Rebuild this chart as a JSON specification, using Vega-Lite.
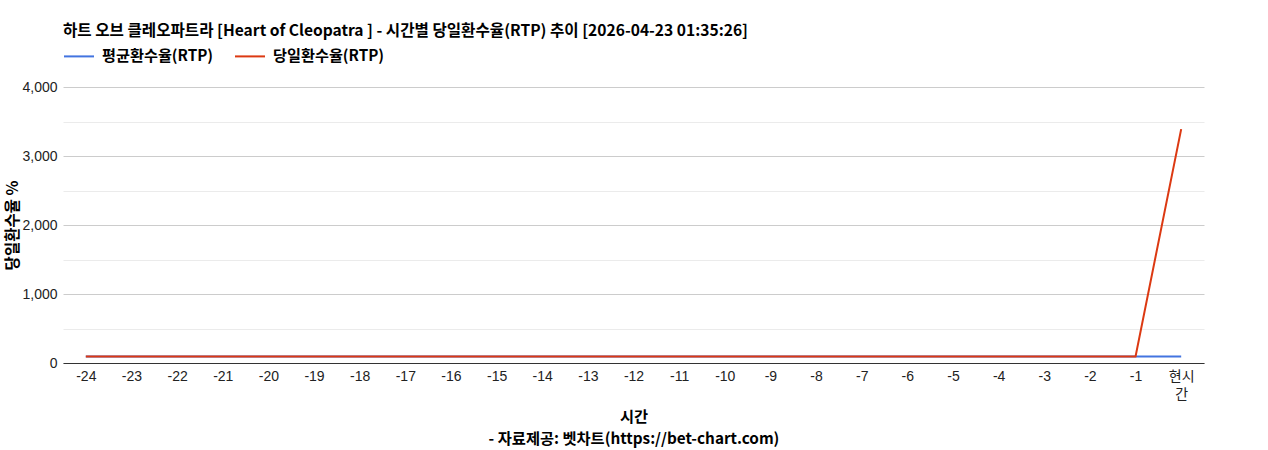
{
  "$schema": "https://vega.github.io/schema/vega-lite/v6.json",
  "autosize": {"type": "none"},
  "width": 1141,
  "height": 276,
  "padding": {"left": 63, "top": 87, "right": 64, "bottom": 87},
  "background": "white",
  "title": {
    "text": "하트 오브 클레오파트라 [Heart of Cleopatra ] - 시간별 당일환수율(RTP) 추이 [2026-04-23 01:35:26]",
    "anchor": "start",
    "frame": "group",
    "offset": 0,
    "fontSize": 15.6,
    "fontWeight": "bold",
    "font": "Noto Sans CJK KR",
    "color": "#000"
  },
  "data": {
    "values": [
      {"time": "-24", "series": "평균환수율(RTP)", "rtp": 96}, {"time": "-24", "series": "당일환수율(RTP)", "rtp": 96},
      {"time": "-23", "series": "평균환수율(RTP)", "rtp": 96}, {"time": "-23", "series": "당일환수율(RTP)", "rtp": 96},
      {"time": "-22", "series": "평균환수율(RTP)", "rtp": 96}, {"time": "-22", "series": "당일환수율(RTP)", "rtp": 96},
      {"time": "-21", "series": "평균환수율(RTP)", "rtp": 96}, {"time": "-21", "series": "당일환수율(RTP)", "rtp": 96},
      {"time": "-20", "series": "평균환수율(RTP)", "rtp": 96}, {"time": "-20", "series": "당일환수율(RTP)", "rtp": 96},
      {"time": "-19", "series": "평균환수율(RTP)", "rtp": 96}, {"time": "-19", "series": "당일환수율(RTP)", "rtp": 96},
      {"time": "-18", "series": "평균환수율(RTP)", "rtp": 96}, {"time": "-18", "series": "당일환수율(RTP)", "rtp": 96},
      {"time": "-17", "series": "평균환수율(RTP)", "rtp": 96}, {"time": "-17", "series": "당일환수율(RTP)", "rtp": 96},
      {"time": "-16", "series": "평균환수율(RTP)", "rtp": 96}, {"time": "-16", "series": "당일환수율(RTP)", "rtp": 96},
      {"time": "-15", "series": "평균환수율(RTP)", "rtp": 96}, {"time": "-15", "series": "당일환수율(RTP)", "rtp": 96},
      {"time": "-14", "series": "평균환수율(RTP)", "rtp": 96}, {"time": "-14", "series": "당일환수율(RTP)", "rtp": 96},
      {"time": "-13", "series": "평균환수율(RTP)", "rtp": 96}, {"time": "-13", "series": "당일환수율(RTP)", "rtp": 96},
      {"time": "-12", "series": "평균환수율(RTP)", "rtp": 96}, {"time": "-12", "series": "당일환수율(RTP)", "rtp": 96},
      {"time": "-11", "series": "평균환수율(RTP)", "rtp": 96}, {"time": "-11", "series": "당일환수율(RTP)", "rtp": 96},
      {"time": "-10", "series": "평균환수율(RTP)", "rtp": 96}, {"time": "-10", "series": "당일환수율(RTP)", "rtp": 96},
      {"time": "-9", "series": "평균환수율(RTP)", "rtp": 96}, {"time": "-9", "series": "당일환수율(RTP)", "rtp": 96},
      {"time": "-8", "series": "평균환수율(RTP)", "rtp": 96}, {"time": "-8", "series": "당일환수율(RTP)", "rtp": 96},
      {"time": "-7", "series": "평균환수율(RTP)", "rtp": 96}, {"time": "-7", "series": "당일환수율(RTP)", "rtp": 96},
      {"time": "-6", "series": "평균환수율(RTP)", "rtp": 96}, {"time": "-6", "series": "당일환수율(RTP)", "rtp": 96},
      {"time": "-5", "series": "평균환수율(RTP)", "rtp": 96}, {"time": "-5", "series": "당일환수율(RTP)", "rtp": 96},
      {"time": "-4", "series": "평균환수율(RTP)", "rtp": 96}, {"time": "-4", "series": "당일환수율(RTP)", "rtp": 96},
      {"time": "-3", "series": "평균환수율(RTP)", "rtp": 96}, {"time": "-3", "series": "당일환수율(RTP)", "rtp": 96},
      {"time": "-2", "series": "평균환수율(RTP)", "rtp": 96}, {"time": "-2", "series": "당일환수율(RTP)", "rtp": 96},
      {"time": "-1", "series": "평균환수율(RTP)", "rtp": 96}, {"time": "-1", "series": "당일환수율(RTP)", "rtp": 96},
      {"time": "현시간", "series": "평균환수율(RTP)", "rtp": 96}, {"time": "현시간", "series": "당일환수율(RTP)", "rtp": 3390}
    ]
  },
  "mark": {"type": "line", "strokeWidth": 2},
  "encoding": {
    "x": {
      "field": "time",
      "type": "ordinal",
      "sort": null,
      "scale": {"type": "point", "padding": 0.5},
      "axis": {
        "title": ["시간", "- 자료제공: 벳차트(https://bet-chart.com)"],
        "titleFontSize": 15.3,
        "titleFontWeight": "bold",
        "titleFont": "Noto Sans CJK KR",
        "titleColor": "#000",
        "titlePadding": 8,
        "titleLineHeight": 22,
        "labelAngle": 0,
        "labelFontSize": 14,
        "labelFont": "Liberation Sans, Noto Sans CJK KR",
        "labelColor": "#222",
        "labelPadding": 6,
        "labelExpr": "datum.label == '현시간' ? ['현시', '간'] : datum.label",
        "labelLineHeight": 18,
        "ticks": false,
        "grid": false,
        "domainColor": "#333"
      }
    },
    "y": {
      "field": "rtp",
      "type": "quantitative",
      "scale": {"domain": [0, 4000], "nice": false},
      "axis": {
        "title": "당일환수율 %",
        "titleFontSize": 15.5,
        "titleFontWeight": "bold",
        "titleFont": "Noto Sans CJK KR",
        "titleColor": "#000",
        "titlePadding": 1,
        "values": [0, 500, 1000, 1500, 2000, 2500, 3000, 3500, 4000],
        "labelExpr": "datum.value % 1000 ? '' : format(datum.value, ',')",
        "labelFontSize": 14,
        "labelFont": "Liberation Sans, Noto Sans CJK KR",
        "labelColor": "#222",
        "labelPadding": 6,
        "ticks": false,
        "domain": false,
        "gridColor": {"condition": {"test": "datum.value % 1000 === 0", "value": "#cccccc"}, "value": "#ebebeb"}
      }
    },
    "color": {
      "field": "series",
      "type": "nominal",
      "sort": ["평균환수율(RTP)", "당일환수율(RTP)"],
      "scale": {"domain": ["평균환수율(RTP)", "당일환수율(RTP)"], "range": ["#4374e0", "#dc3912"]},
      "legend": {
        "title": null,
        "orient": "none",
        "direction": "horizontal",
        "legendX": 0,
        "legendY": -47,
        "symbolType": "stroke",
        "symbolStrokeWidth": 2,
        "symbolSize": 900,
        "labelFontSize": 15.2,
        "labelFontWeight": "bold",
        "labelFont": "Noto Sans CJK KR",
        "labelColor": "#000",
        "labelOffset": 7,
        "columnPadding": 17
      }
    }
  },
  "config": {"view": {"stroke": null}}
}
